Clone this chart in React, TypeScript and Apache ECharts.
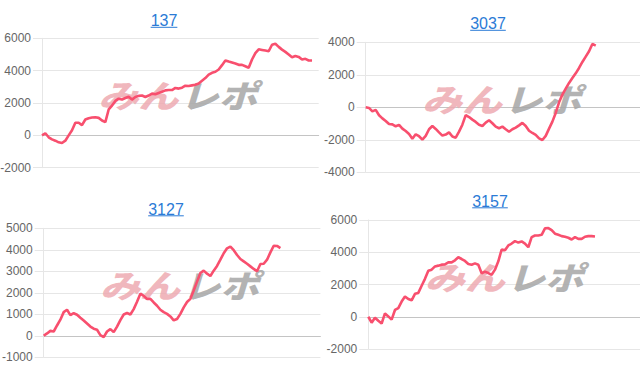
import React, { useEffect, useRef } from "react";
import * as echarts from "echarts";

// ---- data ----
const titles = ["137", "3037", "3127", "3157"];
const periodDays = 83;

const series137 = [
  0, 130, -120, -250, -330, -430, -470, -330, 0, 310, 780, 780, 630, 980, 1060, 1100, 1120, 1080, 920, 820,
  1600, 1840, 2130, 2270, 2210, 2310, 2390, 2210, 2370, 2440, 2460, 2370, 2460, 2580, 2540, 2620, 2700, 2780,
  2800, 2800, 2930, 2890, 2950, 3070, 3050, 3090, 3130, 3210, 3380, 3540, 3750, 3870, 3930, 4070, 4340, 4630,
  4560, 4500, 4440, 4360, 4360, 4270, 4180, 4690, 5080, 5320, 5280, 5240, 5200, 5600, 5660, 5470, 5300, 5160,
  5000, 4830, 4910, 4850, 4690, 4730, 4630, 4630,
];

const series3037 = [
  0, -40, -250, -160, -490, -680, -840, -1030, -1050, -1170, -1080, -1310, -1460, -1640, -1930, -1660, -1780,
  -1990, -1760, -1350, -1150, -1330, -1540, -1740, -1680, -1540, -1800, -1870, -1500, -1070, -480, -600, -760,
  -900, -1070, -1150, -940, -800, -980, -1190, -1290, -1190, -1350, -1500, -1350, -1250, -1110, -960, -1150,
  -1440, -1580, -1700, -1910, -2010, -1760, -1310, -880, -350, 310, 780, 1150, 1500, 1800, 2090, 2420, 2790,
  3120, 3450, 3900, 3800,
];

const series3127 = [
  0, 110, 230, 200, 480, 750, 1100, 1210, 960, 1050, 980, 840, 710, 570, 430, 330, 280, 30, -60, 200, 310, 170,
  430, 730, 990, 1060, 990, 1240, 1580, 1960, 1860, 1710, 1720, 1550, 1400, 1210, 1100, 1020, 900, 720, 780,
  1020, 1320, 1570, 1720, 2110, 2520, 2920, 3030, 2890, 2780, 3030, 3250, 3540, 3840, 4070, 4150, 3980, 3760,
  3570, 3460, 3350, 3230, 3110, 3000, 3340, 3350, 3540, 3880, 4190, 4180, 4080,
];

const series3157 = [
  0, -370, -60, -250, -420, 210, 20, -180, 420, 540, 940, 1250, 1100, 1020, 1420, 1480, 1920, 2350, 2850, 2920,
  3120, 3170, 3230, 3250, 3370, 3370, 3500, 3690, 3580, 3460, 3270, 3230, 3310, 3230, 2700, 2800, 2710, 2600,
  2920, 3440, 4170, 4120, 4420, 4540, 4690, 4600, 4670, 4540, 4310, 4940, 5040, 5040, 5080, 5480, 5500, 5370,
  5150, 5080, 5000, 4960, 4900, 4790, 4940, 4830, 4830, 4960, 5000, 5000, 4980,
];

const allSeries = [series137, series3037, series3127, series3157];
const yMins = [-2000, -4000, -1000, -2000];
const yMaxs = [6000, 4000, 5000, 6000];
const yIntervals = [2000, 2000, 1000, 2000];

// ---- layout ----
const panels = [
  { left: 42, top: 38.3, height: 129.4, titleX: 164, titleY: 20.5 },
  { left: 365.7, top: 42.3, height: 130, titleX: 488, titleY: 23.5 },
  { left: 43.7, top: 228.3, height: 129, titleX: 166, titleY: 209 },
  { left: 368.3, top: 220, height: 129, titleX: 490, titleY: 201 },
];
const plotWidth = 276.7;
const LINE_COLOR = "#f84f6e";
const LINK_COLOR = "#2b7bd6";
const FONT = '"Liberation Sans", Arial, sans-serif';

export default function App() {
  const ref = useRef<HTMLDivElement>(null);
  useEffect(() => {
    if (!ref.current) return;
    const chart = echarts.init(ref.current, undefined, { renderer: "svg" });

    const grid = panels.map((p) => ({
      left: p.left,
      top: p.top,
      width: plotWidth,
      height: p.height,
      outerBoundsMode: "none",
    }));

    const xAxis = panels.map((_, i) => ({
      type: "value",
      gridIndex: i,
      min: 0,
      max: periodDays,
      axisLine: { show: true, onZero: true, lineStyle: { color: "#c4c4c4", width: 1 } },
      axisTick: { show: false },
      axisLabel: { show: false },
      splitLine: { show: false },
    }));

    const yAxis = panels.map((_, i) => ({
      type: "value",
      gridIndex: i,
      min: yMins[i],
      max: yMaxs[i],
      interval: yIntervals[i],
      axisLine: { show: true, lineStyle: { color: "#e6e6e6", width: 1 } },
      axisTick: { show: true, length: 9, lineStyle: { color: "#e6e6e6" } },
      axisLabel: {
        color: "#666",
        fontSize: 12,
        fontFamily: FONT,
        margin: 11,
        formatter: (v: number) => String(v),
      },
      splitLine: { show: true, lineStyle: { color: "#e6e6e6", width: 1 } },
    }));

    const series = allSeries.map((vals, i) => ({
      type: "line",
      xAxisIndex: i,
      yAxisIndex: i,
      showSymbol: false,
      symbol: "none",
      data: vals.map((v, k) => [k, v]),
      lineStyle: { color: LINE_COLOR, width: 2.6 },
      itemStyle: { color: LINE_COLOR },
      z: 5,
    }));

    const graphic: any[] = [];
    panels.forEach((p, i) => {
      const w = titles[i].length * 8.9;
      graphic.push({
        type: "text",
        x: p.titleX,
        y: p.titleY,
        z: 10,
        style: {
          text: titles[i],
          fill: LINK_COLOR,
          font: `16px ${FONT}`,
          textAlign: "center",
          textVerticalAlign: "middle",
        },
      });
      graphic.push({
        type: "line",
        z: 10,
        shape: { x1: p.titleX - w / 2, y1: p.titleY + 6.8, x2: p.titleX + w / 2, y2: p.titleY + 6.8 },
        style: { stroke: LINK_COLOR, lineWidth: 1 },
      });
      const cx = p.left + plotWidth / 2 - 3;
      const cy = p.top + p.height / 2 - 9;
      graphic.push({
        type: "text",
        x: cx + 1,
        y: cy,
        scaleX: 1.25,
        z: 1,
        style: {
          text: "みん",
          fill: "#eeaab1",
          opacity: 0.85,
          font: 'italic 900 32px "Noto Sans CJK JP"',
          textAlign: "right",
          textVerticalAlign: "middle",
        },
      });
      graphic.push({
        type: "text",
        x: cx + 3,
        y: cy,
        scaleX: 1.2,
        z: 1,
        style: {
          text: "レポ",
          fill: "#a6a6a6",
          opacity: 0.85,
          font: 'italic 900 32px "Noto Sans CJK JP"',
          textAlign: "left",
          textVerticalAlign: "middle",
        },
      });
    });

    chart.setOption({
      animation: false,
      backgroundColor: "#ffffff",
      grid,
      xAxis,
      yAxis,
      series,
      graphic,
    } as any);

    return () => chart.dispose();
  }, []);

  return (
    <div
      ref={ref}
      style={{ position: "fixed", left: 0, top: 0, width: 640, height: 372, background: "#fff" }}
    />
  );
}
